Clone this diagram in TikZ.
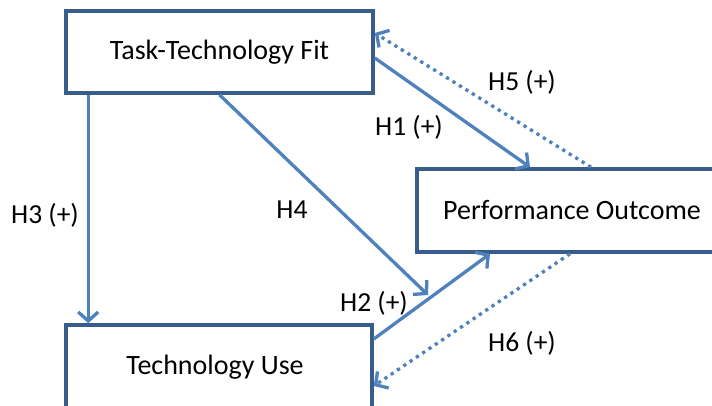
\documentclass[tikz,border=0pt]{standalone}
\usepackage{fontspec}
\setmainfont{Carlito}
\usepackage{tikz}
\usetikzlibrary{arrows.meta,calc,positioning}
\definecolor{myboxblue}{RGB}{56,93,138}
\definecolor{myarrowblue}{RGB}{79,129,189}
\tikzstyle{construct}=[draw=myboxblue,line width=3.6pt,fill=white,rectangle,inner sep=0pt,font=\fontsize{28}{32}\selectfont]
\tikzstyle{hyp}=[myarrowblue,line width=3.3pt,-{Straight Barb[length=9pt,width=20pt,line width=3.3pt]}]
\tikzstyle{hypdot}=[hyp,dash pattern=on 3.3pt off 4.3pt]
\tikzstyle{hlabel}=[font=\fontsize{27.5}{32}\selectfont,inner sep=0pt]

\begin{document}
\begin{tikzpicture}[x=1pt,y=1pt]
\useasboundingbox (0,0) rectangle (712,406);
\clip (0,0) rectangle (712,406);
% constructs
\node [construct,minimum width=307pt,minimum height=82pt] (ttf) at (219.5,354) {Task-Technology Fit};
\node [construct,minimum width=310pt,minimum height=83pt] (po) at (572,195.5) {Performance Outcome};
\node [construct,minimum width=306pt,minimum height=84pt] (tu) at (219,39) {\hspace*{-8pt}Technology Use};
\coordinate (h4end) at (428,111);
% hypotheses
\draw [hyp] ([xshift=24pt]ttf.south west) -- ([xshift=24pt]tu.north west);
\draw [hyp] ([yshift=-6pt]ttf.east) -- ([xshift=-42pt]po.north);
\draw [hypdot] ([xshift=19pt]po.north) -- ([yshift=19pt]ttf.east);
\draw [hyp] (ttf.south) -- (h4end);
\draw [hyp] ([yshift=28pt]tu.east) -- ([xshift=-82pt]po.south);
\draw [hypdot] ([xshift=-2pt]po.south) -- ([yshift=-19pt]tu.east);
% labels
\node [hlabel] (lh1) at (409,279) {H1 (+)};
\node [hlabel] (lh5) at (522,324) {H5 (+)};
\node [hlabel] (lh4) at (292,196) {H4};
\node [hlabel] (lh3) at (45,191) {H3 (+)};
\node [hlabel] (lh2) at (374,103) {H2 (+)};
\node [hlabel] (lh6) at (522,63) {H6 (+)};
\end{tikzpicture}
\end{document}
